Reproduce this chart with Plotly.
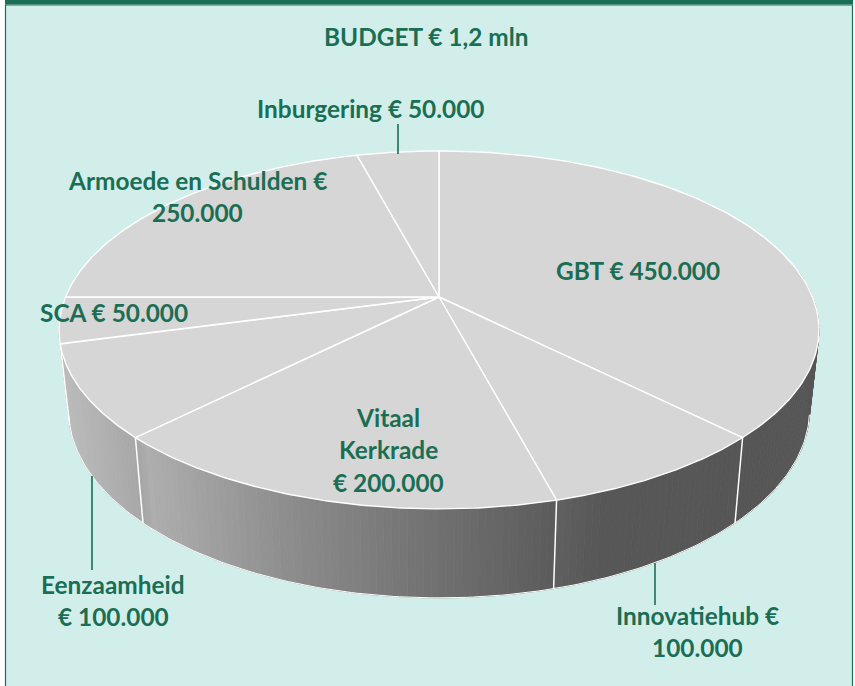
import numpy as np
import plotly.graph_objects as go

# --- data (clockwise from 12 o'clock) ---
categories = ["GBT", "Innovatiehub", "Vitaal Kerkrade", "Eenzaamheid", "SCA",
              "Armoede en Schulden", "Inburgering"]
values = [450000, 100000, 200000, 100000, 50000, 250000, 50000]

title_text = "BUDGET € 1,2 mln"
label_lines = [
    ["GBT € 450.000"],
    ["Innovatiehub €", "100.000"],
    ["Vitaal", "Kerkrade", "€ 200.000"],
    ["Eenzaamheid", "€ 100.000"],
    ["SCA € 50.000"],
    ["Armoede en Schulden €", "250.000"],
    ["Inburgering € 50.000"],
]

# --- layout / style (pixel space of the page) ---
W, H = 855, 686
GREEN = "#1a6e54"
PANEL = "#d2eeeb"
TOP = "#d6d6d6"
FONT = "Lato"
FS = 24.4
LINE_H = 32.5
label_pos = [(638, 270), (697, 615), (388, 417), (113, 584), (114, 312), (197, 180), (371, 108)]
leaders = [None, ((655, 563), (655, 605)), None, ((92, 476), (92, 570)), None, None,
           ((398, 124), (398, 154))]

# projected disc: perspective view of a circle
CX, CY, A, B, P = 439, 297, 373.5, 172.9, 0.184
SX, SY, Y0 = 0.975, 1.049, 375.6


def top_xy(t):
    w = 1 + P * np.cos(t)
    return CX + A * np.sin(t) / w, CY - B * np.cos(t) / w


def bottom_xy(t):
    x, y = top_xy(t)
    return CX + SX * (x - CX), Y0 + SY * (y - CY)


def wall_colour(x):
    v = np.interp(x, [60, 140, 145, 300, 440, 553, 557, 600, 820],
                  [0xbb, 0xa6, 0xae, 0x8a, 0x70, 0x5c, 0x60, 0x57, 0x56])
    v = int(round(float(v)))
    return f"rgb({v},{v},{v})"


total = sum(values)
edges = np.concatenate([[0], np.cumsum(values)]) / total * 2 * np.pi

fig = go.Figure()

# side wall as narrow shaded bands
grid = np.radians(np.arange(80, 281, 1.0))
for t0, t1 in zip(grid[:-1], grid[1:]):
    xa, ya = top_xy(t0)
    xb, yb = top_xy(t1)
    xc, yc = bottom_xy(t1)
    xd, yd = bottom_xy(t0)
    col = wall_colour((xa + xb) / 2)
    fig.add_trace(go.Scatter(x=[xa, xb, xc, xd, xa], y=[ya, yb, yc, yd, ya], mode="lines",
                             fill="toself", fillcolor=col, line=dict(color=col, width=0.8),
                             hoverinfo="skip", showlegend=False))

# white rim along the lower edge of the wall
rim = np.radians(np.linspace(102, 258, 200))
rx, ry = bottom_xy(rim)
fig.add_trace(go.Scatter(x=rx, y=ry, mode="lines", line=dict(color="white", width=1),
                         hoverinfo="skip", showlegend=False))

# slice borders on the wall
for e in edges:
    if np.pi / 2 < e < 3 * np.pi / 2:
        xa, ya = top_xy(e)
        xb, yb = bottom_xy(e)
        fig.add_trace(go.Scatter(x=[xa, xb], y=[ya, yb], mode="lines",
                                 line=dict(color="white", width=1.5),
                                 hoverinfo="skip", showlegend=False))

# top face slices
for name, v, e0, e1 in zip(categories, values, edges[:-1], edges[1:]):
    arc = np.linspace(e0, e1, 120)
    ax, ay = top_xy(arc)
    fig.add_trace(go.Scatter(x=np.r_[CX, ax, CX], y=np.r_[CY, ay, CY], mode="lines",
                             fill="toself", fillcolor=TOP, line=dict(color="white", width=1.4),
                             name=name, text=f"{name}: {v}", hoverinfo="text", showlegend=False))

# leader lines
for seg in leaders:
    if seg:
        fig.add_shape(type="line", x0=seg[0][0], y0=seg[0][1], x1=seg[1][0], y1=seg[1][1],
                      line=dict(color=GREEN, width=1.6))

# panel frame
fig.add_shape(type="rect", x0=5.5, y0=5, x1=852.5, y1=700, line=dict(color=GREEN, width=1.2),
              fillcolor=PANEL, layer="below")
fig.add_shape(type="rect", x0=5, y0=-2, x1=853, y1=4.5, line=dict(width=0),
              fillcolor=GREEN, layer="below")


def label(text, x, y):
    fig.add_annotation(x=x, y=y, text=f"<b>{text}</b>", showarrow=False, xanchor="center",
                       yanchor="middle", font=dict(family=FONT, size=FS, color=GREEN))


label(title_text, 426, 36)
for lines, (lx, ly) in zip(label_lines, label_pos):
    for i, line in enumerate(lines):
        label(line, lx, ly + i * LINE_H)

fig.update_layout(width=W, height=H, margin=dict(l=0, r=0, t=0, b=0),
                  paper_bgcolor="white", plot_bgcolor="white", showlegend=False,
                  xaxis=dict(range=[0, W], visible=False, fixedrange=True),
                  yaxis=dict(range=[H, 0], visible=False, fixedrange=True))

fig.write_html("out.html", config={"displayModeBar": False},
               post_script="document.body.style.margin='0';")
